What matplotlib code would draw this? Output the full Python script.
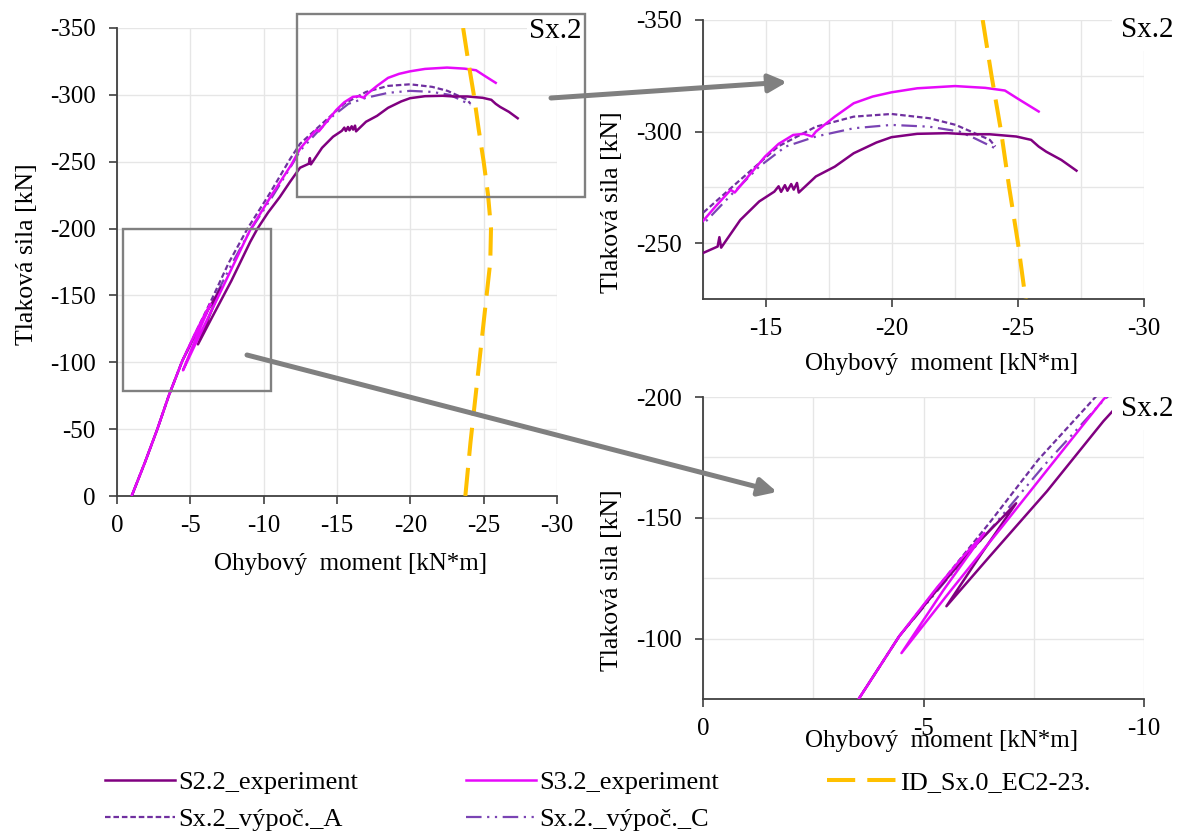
import matplotlib
matplotlib.use("Agg")
import matplotlib.pyplot as plt
from matplotlib.patches import Rectangle, FancyArrowPatch, ArrowStyle
from matplotlib.ticker import MultipleLocator, FuncFormatter

plt.rcParams['font.family'] = ['Liberation Serif', 'DejaVu Serif']

# ---------------- data (bending moment M [kN*m], axial force N [kN]) ----------------
s22_M = [-1.0, -1.9, -2.75, -3.53, -4.45, -5.3, -6.2, -7.1, -6.3, -5.52, -6.5, -7.8, -9.08, -9.58,
         -10.3, -11.1, -11.8, -12.48, -13.08, -13.15, -13.22, -13.98, -14.73, -15.33, -15.5, -15.6,
         -15.75, -15.85, -16.0, -16.1, -16.23, -16.3, -16.98, -17.73, -18.48, -19.38, -19.98, -21.0,
         -22.2, -22.97, -23.88, -24.93, -25.52, -25.82, -26.12, -26.72, -27.32]
s22_N = [0, -25, -50, -75, -101, -120, -139, -156, -134.8, -113.4, -134, -161, -190, -200,
         -212, -223.6, -235, -245.5, -248.5, -252.7, -248, -260.4, -268.7, -273.1, -275.5, -273,
         -276, -273.5, -276.5, -274, -277, -272.7, -279.9, -284.3, -290.3, -295.1, -297.5, -299,
         -299.3, -298.8, -298.8, -297.8, -296.3, -293.3, -291.0, -287.3, -282.5]

s32_M = [-1.0, -1.9, -2.75, -3.53, -4.45, -5.3, -5.9, -6.38, -5.45, -4.5, -5.6, -6.79, -7.9, -9.08,
         -10.6, -11.9, -12.48, -13.0, -13.6, -13.76, -14.3, -14.96, -15.5, -16.08, -16.5, -16.83,
         -16.98, -17.73, -18.48, -19.23, -19.98, -21.0, -22.5, -23.7, -24.48, -25.07, -25.82]
s32_N = [0, -25, -50, -75, -101, -121, -134, -143.7, -120, -94, -119.5, -146.5, -172, -199,
         -226, -248, -259.7, -266.5, -273.9, -272.7, -280, -288.8, -294.5, -298.5, -299, -297.8,
         -300, -306.7, -312.7, -315.7, -317.6, -319.4, -320.4, -319.6, -318.4, -314.2, -309.0]

ec2_M = [-23.6, -23.95, -24.33, -24.65, -25.0, -25.3, -25.5, -25.45, -25.2, -24.95, -24.7, -24.4, -24.1, -23.75]
ec2_N = [-350, -325, -300, -275, -250, -225, -200, -175, -150, -125, -100, -70, -40, 0]

vA_M = [-1.0, -1.9, -2.75, -3.53, -4.45, -5.57, -6.5, -7.6, -8.9, -10.4, -11.8, -12.48, -13.98,
        -15.48, -16.98, -18.48, -19.98, -21.48, -22.53, -23.28, -23.88, -24.1]
vA_N = [0, -25, -50, -75, -101, -127, -148, -174, -200, -226, -252, -263.4, -278.4,
        -293.3, -302.2, -306.7, -307.9, -306.0, -303.0, -299.3, -296.3, -293.3]

vC_M = [-1.0, -1.9, -2.75, -3.53, -4.45, -5.6, -6.6, -7.75, -9.05, -10.6, -12.0, -12.48, -13.68,
        -14.73, -15.78, -16.98, -18.48, -19.98, -21.48, -22.68, -23.28, -24.1]
vC_N = [0, -25, -50, -75, -101, -126, -147, -172, -198, -224, -249, -258.2, -272.4,
        -284.3, -293.3, -297.8, -301.5, -303.0, -302.2, -300, -297.0, -292.5]

labels = ["S2.2_experiment", "S3.2_experiment", "ID_Sx.0_EC2-23.",
          "Sx.2_výpoč._A", "Sx.2._výpoč._C"]
xlabel = "Ohybový  moment [kN*m]"
ylabel = "Tlaková sila [kN]"
tag = "Sx.2"

# ---------------- figure ----------------
W, H = 1181, 835
fig = plt.figure(figsize=(W / 100, H / 100), dpi=100)

def px_rect(l, t, r, b):
    return [l / W, 1 - b / H, (r - l) / W, (b - t) / H]

ax_main = fig.add_axes(px_rect(117, 28, 557, 496))
ax_top = fig.add_axes(px_rect(703, 20, 1144, 299))
ax_bot = fig.add_axes(px_rect(703, 397, 1144, 699))

C_S22 = '#800080'
C_S32 = '#E60AFA'
C_EC2 = '#FFC000'
C_A = '#7030A0'
C_C = '#7A44B4'

def draw(ax):
    h1, = ax.plot(s22_M, s22_N, color=C_S22, lw=1.8, label=labels[0], zorder=4)
    h2, = ax.plot(s32_M, s32_N, color=C_S32, lw=1.8, label=labels[1], zorder=5)
    h3, = ax.plot(ec2_M, ec2_N, color=C_EC2, lw=2.9, ls=(0, (7, 3)), label=labels[2], zorder=6)
    h4, = ax.plot(vA_M, vA_N, color=C_A, lw=1.6, ls=(0, (2.5, 1.3)), label=labels[3], zorder=3)
    h5, = ax.plot(vC_M, vC_N, color=C_C, lw=1.6, ls=(0, (7, 2.5, 1, 2.5, 1, 2.5)), label=labels[4], zorder=3)
    return [h1, h2, h3, h4, h5]

fmt = FuncFormatter(lambda v, p: "0" if abs(v) < 1e-9 else ("%g" % v).replace("\u2212", "-"))

def style(ax, xlim, ylim, xmaj, ymaj, xmin, ymin):
    ax.set_xlim(*xlim)
    ax.set_ylim(*ylim)
    ax.xaxis.set_major_locator(MultipleLocator(xmaj))
    ax.yaxis.set_major_locator(MultipleLocator(ymaj))
    ax.xaxis.set_major_formatter(fmt)
    ax.yaxis.set_major_formatter(fmt)
    if xmin:
        ax.xaxis.set_minor_locator(MultipleLocator(xmin))
        ax.yaxis.set_minor_locator(MultipleLocator(ymin))
        ax.grid(True, which='minor', color='#E6E6E6', lw=1.0, zorder=0)
    ax.grid(True, which='major', color='#E6E6E6', lw=1.0, zorder=0)
    ax.set_axisbelow(True)
    for s in ('top', 'right'):
        ax.spines[s].set_visible(False)
    for s in ('left', 'bottom'):
        ax.spines[s].set_color('#404040')
        ax.spines[s].set_linewidth(1.3)
    ax.tick_params(which='major', direction='out', length=6, width=1.2, color='#404040',
                   labelsize=18, labelcolor='black')
    ax.tick_params(axis='x', which='major', pad=8)
    ax.tick_params(axis='y', which='major', pad=9.5)
    ax.tick_params(which='minor', length=0)

handles = draw(ax_main)
draw(ax_top)
draw(ax_bot)

style(ax_main, (0, -30), (0, -350), 5, 50, None, None)
style(ax_top, (-12.5, -30), (-225, -350), 5, 50, 2.5, 25)
style(ax_bot, (0, -10), (-75, -200), 5, 50, 2.5, 25)

for ax, xc, yc, ylx, yly in [(ax_main, 0.53, -0.122, -0.2045, 0.517),
                             (ax_top, 0.54, -0.195, -0.206, 0.348),
                             (ax_bot, 0.54, -0.103, -0.206, 0.394)]:
    ax.set_xlabel(xlabel, fontsize=18)
    ax.xaxis.set_label_coords(xc, yc)
    ax.set_ylabel(ylabel, fontsize=18.5, va='center')
    ax.yaxis.set_label_coords(ylx, yly)

# "Sx.2" tags with white backing
fig.text(555 / W, 1 - 31 / H, tag, fontsize=21, ha='center', va='center', zorder=10,
         bbox=dict(facecolor='white', edgecolor='none', pad=1.5))
fig.text(1147 / W, 1 - 30 / H, tag, fontsize=21, ha='center', va='center', zorder=10,
         bbox=dict(facecolor='white', edgecolor='none', pad=6))
fig.text(1147 / W, 1 - 409 / H, tag, fontsize=21, ha='center', va='center', zorder=10,
         bbox=dict(facecolor='white', edgecolor='none', pad=6))

# zoom frames
for (l, t, r, b) in [(297, 14, 585, 197), (122.6, 229, 271, 391)]:
    rx, ry, rw, rh = px_rect(l, t, r, b)
    fig.add_artist(Rectangle((rx, ry), rw, rh, transform=fig.transFigure, fill=False,
                             edgecolor='#808080', lw=1.7, zorder=11))

# arrows
astyle = ArrowStyle('-|>', head_length=0.9, head_width=0.45)
for (x0, y0, x1, y1) in [(551, 98, 787, 82), (247, 355, 777, 492)]:
    fig.add_artist(FancyArrowPatch((x0 / W, 1 - y0 / H), (x1 / W, 1 - y1 / H),
                                   transform=fig.transFigure, arrowstyle=astyle,
                                   mutation_scale=12, lw=3.6, color='#808080',
                                   shrinkA=0, shrinkB=0, zorder=12))

# legend
order = [handles[0], handles[3], handles[1], handles[4], handles[2]]
fig.legend(order, [h.get_label() for h in order], ncol=3, loc='center left',
           bbox_to_anchor=(105 / W, 1 - 801 / H), frameon=False, fontsize=19,
           handlelength=2.65, handletextpad=0.12, columnspacing=4.1, labelspacing=0.5,
           borderpad=0, borderaxespad=0)

fig.savefig("out.png", dpi=100)
